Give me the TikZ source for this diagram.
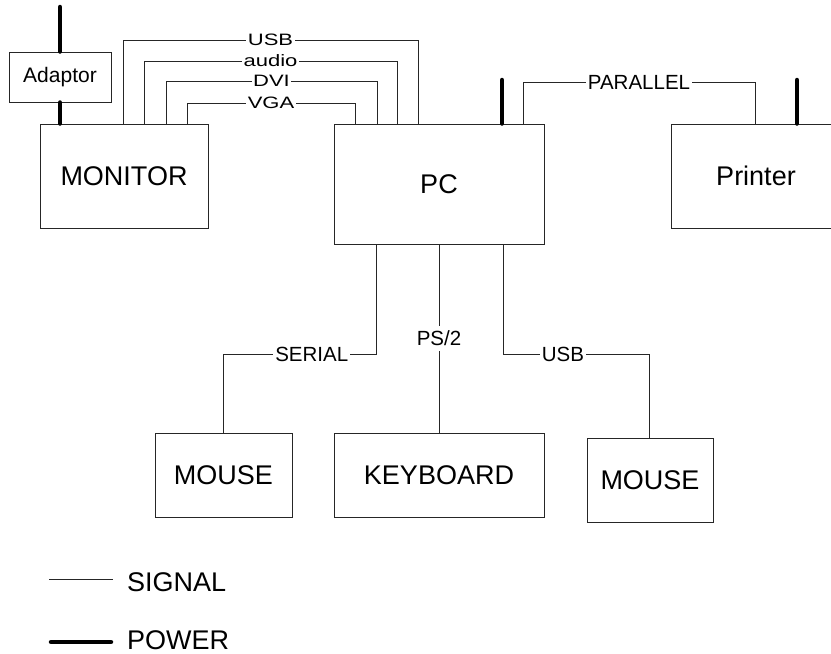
\documentclass[tikz,border=0pt]{standalone}
\usepackage{fontspec}
\setmainfont{Liberation Sans}
\begin{document}
\begin{tikzpicture}[x=1pt,y=-1pt,
  box/.style={draw=black!85, line width=1pt, inner sep=0pt, font=\fontsize{27}{30}\selectfont},
  sig/.style={draw=black!85, line width=0.9pt},
  power/.style={draw=black, line width=4.5pt, line cap=round},
  toplab/.style={fill=white, inner xsep=1.5pt, inner ysep=0pt, font=\fontsize{22}{24}\selectfont},
  botlab/.style={fill=white, inner xsep=2pt, inner ysep=1pt, font=\fontsize{20.5}{24}\selectfont},
  legtxt/.style={anchor=west, inner sep=0pt, font=\fontsize{27}{30}\selectfont}]
\useasboundingbox (0,0) rectangle (831,654);
\clip (0,0) rectangle (831,654);

% boxes
\node[box, minimum width=102pt, minimum height=50pt, font=\fontsize{21}{24}\selectfont] (adaptor) at (60,77) {Adaptor};
\node[box, minimum width=168pt, minimum height=104pt] (mon) at (124,176) {MONITOR};
\node[box, minimum width=210pt, minimum height=120pt] (pc) at (439,184) {PC};
\node[box, minimum width=170pt, minimum height=104pt] (prn) at (756,176) {Printer};
\node[box, minimum width=137pt, minimum height=84pt] (mouseA) at (223.5,475) {MOUSE};
\node[box, minimum width=210pt, minimum height=84pt] (kbd) at (439,475) {KEYBOARD};
\node[box, minimum width=126pt, minimum height=84pt] (mouseB) at (650,480) {MOUSE};

% helper coordinates
\coordinate (mUSB) at (123,0);  \coordinate (pUSB) at (418,0); \coordinate (rUSB) at (0,40);
\coordinate (mAud) at (144,0);  \coordinate (pAud) at (397,0); \coordinate (rAud) at (0,61);
\coordinate (mDVI) at (166,0);  \coordinate (pDVI) at (377,0); \coordinate (rDVI) at (0,81);
\coordinate (mVGA) at (187,0);  \coordinate (pVGA) at (355,0); \coordinate (rVGA) at (0,103);
\coordinate (pPar) at (523,0);  \coordinate (qPar) at (755,0); \coordinate (rPar) at (0,82);
\coordinate (pSer) at (376,0);  \coordinate (mSer) at (223,0); \coordinate (rBot) at (0,354);
\coordinate (pUsb2) at (503,0); \coordinate (mUsb2) at (649,0);

% monitor cables
\draw[sig] (mon.north -| mUSB) -- (mUSB |- rUSB) -- node[toplab]{\scalebox{1}[0.75]{USB}} (pUSB |- rUSB) -- (pc.north -| pUSB);
\draw[sig] (mon.north -| mAud) -- (mAud |- rAud) -- node[toplab]{\scalebox{1}[0.75]{audio}} (pAud |- rAud) -- (pc.north -| pAud);
\draw[sig] (mon.north -| mDVI) -- (mDVI |- rDVI) -- node[toplab]{\scalebox{1}[0.75]{DVI}} (pDVI |- rDVI) -- (pc.north -| pDVI);
\draw[sig] (mon.north -| mVGA) -- (mVGA |- rVGA) -- node[toplab]{\scalebox{1}[0.75]{VGA}} (pVGA |- rVGA) -- (pc.north -| pVGA);

% printer cable
\draw[sig] (pc.north -| pPar) -- (pPar |- rPar) -- node[botlab]{PARALLEL} (qPar |- rPar) -- (prn.north -| qPar);

% lower cables
\draw[sig] (pc.south -| pSer) -- (pSer |- rBot) -- node[botlab, pos=0.42]{SERIAL} (mSer |- rBot) -- (mouseA.north -| mSer);
\draw[sig] (pc.south) -- node[botlab, inner ysep=5pt]{PS/2} (kbd.north);
\draw[sig] (pc.south -| pUsb2) -- (pUsb2 |- rBot) -- node[botlab, pos=0.41]{USB} (mUsb2 |- rBot) -- (mouseB.north -| mUsb2);

% power
\coordinate (pwTop) at (60,7);
\draw[power] (pwTop) -- (adaptor.north);
\draw[power] (adaptor.south) -- (mon.north -| adaptor.south);
\coordinate (pwPC) at (502,80);
\draw[power] (pwPC) -- (pwPC |- pc.north);
\coordinate (pwPrn) at (797,80);
\draw[power] (pwPrn) -- (pwPrn |- prn.north);

% legend
\coordinate (sA) at (49,579); \coordinate (sB) at (113,579);
\draw[sig] (sA) -- (sB);
\node[legtxt] (sigtxt) at (127,582) {SIGNAL};
\coordinate (wA) at (51,642); \coordinate (wB) at (111,642);
\draw[power] (wA) -- (wB);
\node[legtxt] (powtxt) at (127,640) {POWER};
\end{tikzpicture}
\end{document}
